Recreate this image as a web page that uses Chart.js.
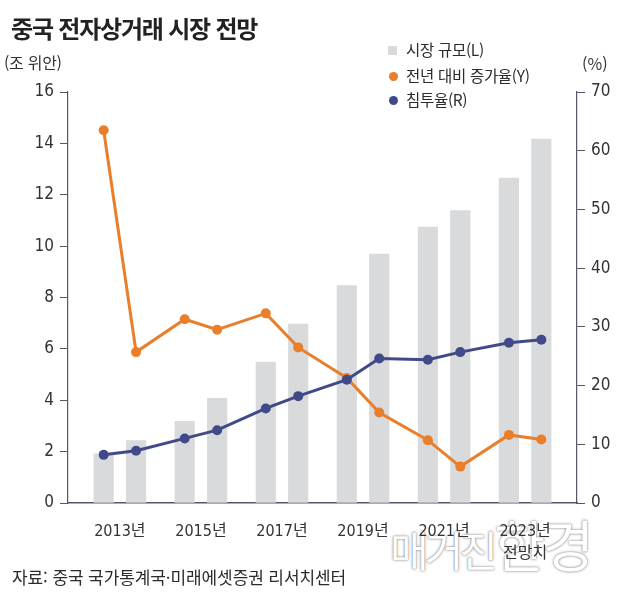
<!DOCTYPE html>
<html lang="ko">
<head>
<meta charset="utf-8">
<script src="https://cdn.jsdelivr.net/npm/chart.js@4/dist/chart.umd.min.js"></script>
<style>
  body { margin: 0; background: #fff; }
  #wrap { position: relative; width: 630px; height: 595px; font-family: "Noto Sans CJK KR", "Noto Sans", sans-serif; color: #2b2b2b; overflow: hidden; }
  #wrap canvas { position: absolute; left: 0; top: 0; }
  .abs { position: absolute; white-space: nowrap; }
  #title { left: 11px; top: 10px; font-size: 24px; font-weight: 700; letter-spacing: -1.2px; color: #222; }
  #unitL { left: 4px; top: 50px; font-size: 16px; letter-spacing: -0.3px; color: #333; }
  #unitR { left: 582px; top: 51px; font-size: 16px; color: #333; }
  .lg { left: 388px; font-size: 15.5px; letter-spacing: -0.3px; color: #2b2b2b; }
  .lg i { display: inline-block; position: absolute; left: 0; }
  .lg span { position: absolute; left: 18px; top: -12px; }
  #source { left: 12px; top: 564px; font-size: 17px; letter-spacing: -0.1px; color: #2b2b2b; }
  #wm { left: 390px; top: 502px; color: #fff; text-shadow: 0 0 3px rgba(0,0,0,0.45), 0 0 1px rgba(0,0,0,0.4); font-weight: 400; }
</style>
</head>
<body>
<div id="wrap">
  <div id="wm" class="abs"><span style="font-size:42px;letter-spacing:-4px">매거진</span><span style="font-size:56px;letter-spacing:-3px">한경</span></div>
  <canvas id="c" width="630" height="595"></canvas>
  <div id="title" class="abs">중국 전자상거래 시장 전망</div>
  <div id="unitL" class="abs">(조 위안)</div>
  <div id="unitR" class="abs">(%)</div>
  <div class="abs lg" style="top:50px"><i style="top:-4px;width:9px;height:9px;background:#d9dadb"></i><span>시장 규모(L)</span></div>
  <div class="abs lg" style="top:76px"><i style="top:-4px;left:1px;width:9px;height:9px;border-radius:50%;background:#e97e2b"></i><span>전년 대비 증가율(Y)</span></div>
  <div class="abs lg" style="top:100px"><i style="top:-4px;left:1px;width:9px;height:9px;border-radius:50%;background:#414a88"></i><span>침투율(R)</span></div>
  <div id="source" class="abs">자료: 중국 국가통계국·미래에셋증권 리서치센터</div>
</div>
<script>
// 데이터
const years = ['2013', '2014', '2015', '2016', '2017', '2018', '2019', '2020', '2021', '2022', '2023', '2024'];
const marketSize = [1.91, 2.43, 3.18, 4.07, 5.49, 6.97, 8.46, 9.69, 10.74, 11.38, 12.65, 14.17]; // 조 위안 (L)
const growthRate = [63.5, 25.7, 31.3, 29.5, 32.3, 26.5, 21.3, 15.4, 10.7, 6.2, 11.6, 10.8];     // % (Y)
const penetration = [8.2, 8.9, 11.0, 12.4, 16.1, 18.2, 21.0, 24.6, 24.4, 25.7, 27.3, 27.8];    // % (R)
const tickYears = ['2013년', '2015년', '2017년', '2019년', '2021년', ['2023년', '전망치']];
const leftTicks = [0, 2, 4, 6, 8, 10, 12, 14, 16];
const rightTicks = [0, 10, 20, 30, 40, 50, 60, 70];

// 2개년씩 묶어서 배치 (묶음 사이 간격)
const slot = i => Math.floor(i / 2) * 2.5 + (i % 2);
const pairCenter = k => k * 2.5 + 0.5;
const tickPos = tickYears.map((_, k) => pairCenter(k));

const pts = arr => arr.map((v, i) => ({ x: slot(i), y: v, year: years[i] }));

const fam = '"Liberation Sans Narrow", "DejaVu Sans Condensed", "Noto Sans CJK KR", sans-serif';
const numFont = { family: fam, size: 17 };
const axisColor = '#55566a';

new Chart(document.getElementById('c'), {
    data: {
        datasets: [
            {
                type: 'line', label: '침투율(R)', data: pts(penetration), yAxisID: 'yR', order: 1,
                borderColor: '#414a88', backgroundColor: '#414a88', borderWidth: 3,
                pointRadius: 5, pointBorderWidth: 0, tension: 0
            },
            {
                type: 'line', label: '전년 대비 증가율(Y)', data: pts(growthRate), yAxisID: 'yR', order: 2,
                borderColor: '#e97e2b', backgroundColor: '#e97e2b', borderWidth: 3,
                pointRadius: 5, pointBorderWidth: 0, tension: 0
            },
            {
                type: 'bar', label: '시장 규모(L)', data: pts(marketSize), yAxisID: 'yL', order: 3,
                backgroundColor: '#d9dadb', barThickness: 19.5
            }
        ]
    },
    options: {
        responsive: false,
        animation: false,
        layout: { padding: { top: 92, left: 0, right: 0, bottom: 0 } },
        plugins: { legend: { display: false }, tooltip: { enabled: false } },
        scales: {
            x: {
                type: 'linear', min: -1.1, max: 14.6, offset: false,
                grid: { display: false },
                border: { display: true, color: axisColor, width: 1.5 },
                afterBuildTicks: s => { s.ticks = tickPos.map(v => ({ value: v })); },
                afterFit: s => { s.height = 92; },
                ticks: {
                    autoSkip: false, maxRotation: 0, padding: 10, color: '#333',
                    font: { family: fam, size: 16, lineHeight: 1.35 },
                    callback: v => tickYears[tickPos.indexOf(v)]
                }
            },
            yL: {
                type: 'linear', position: 'left', min: 0, max: 16,
                afterBuildTicks: s => { s.ticks = leftTicks.map(v => ({ value: v })); },
                afterFit: s => { s.width = 68; },
                grid: { drawOnChartArea: false, drawTicks: true, tickLength: 8, color: axisColor, lineWidth: 1 },
                border: { display: true, color: axisColor, width: 1.2 },
                ticks: { color: '#333', font: numFont, padding: 6 }
            },
            yR: {
                type: 'linear', position: 'right', min: 0, max: 70,
                afterBuildTicks: s => { s.ticks = rightTicks.map(v => ({ value: v })); },
                afterFit: s => { s.width = 53; },
                grid: { drawOnChartArea: false, drawTicks: true, tickLength: 8, color: axisColor, lineWidth: 1 },
                border: { display: true, color: axisColor, width: 1.2 },
                ticks: { color: '#333', font: numFont, padding: 6 }
            }
        }
    }
});
</script>
</body>
</html>
